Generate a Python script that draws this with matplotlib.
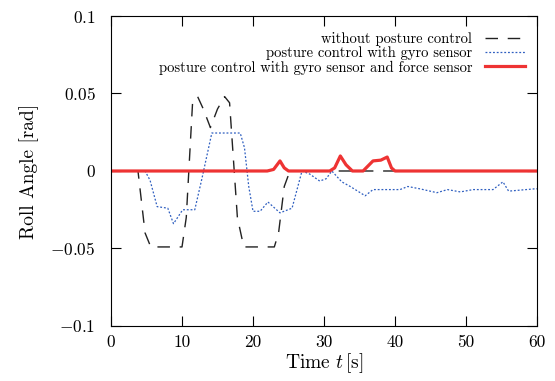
import matplotlib
matplotlib.use("Agg")
import matplotlib.pyplot as plt

plt.rcParams['font.family'] = 'serif'
plt.rcParams['font.serif'] = ['cmr10']
plt.rcParams['mathtext.fontset'] = 'cm'
plt.rcParams['axes.formatter.use_mathtext'] = True

# without posture control
t_none = [0, 3.8, 4.8, 5.6, 10.0, 10.6, 11.5, 12.2, 13.0, 14.0, 15.0, 16.0, 16.7, 17.8, 18.7, 23.0, 23.6, 24.4, 25.2, 60]
r_none = [0, 0, -0.040, -0.049, -0.049, -0.030, 0.045, 0.048, 0.040, 0.028, 0.040, 0.048, 0.044, -0.030, -0.049, -0.049, -0.040, -0.010, 0, 0]

# posture control with gyro sensor
t_gyro = [0, 4.8, 5.5, 6.5, 8.0, 8.8, 10.1, 11.8, 12.8, 14.2, 18.2, 18.8, 19.4, 20.0, 21.0, 22.1, 23.8, 25.5, 26.9,
          28.0, 29.4, 30.3, 31.1, 32.5, 33.7, 35.8, 36.9, 40.7, 41.8, 43.5, 45.9, 47.4, 49.2, 51.0, 53.8, 55.2, 56.0, 59.7, 60]
r_gyro = [0, 0, -0.006, -0.023, -0.024, -0.034, -0.025, -0.025, -0.005, 0.0245, 0.0245, 0.015, -0.010, -0.026, -0.026, -0.020, -0.027, -0.024, 0,
          -0.002, -0.0065, -0.005, 0, -0.007, -0.010, -0.016, -0.012, -0.012, -0.010, -0.0115, -0.014, -0.012, -0.0135, -0.012, -0.012, -0.007, -0.013, -0.0115, -0.0115]

# posture control with gyro sensor and force sensor
t_force = [0, 22.0, 22.9, 23.8, 24.4, 25.0, 30.8, 31.5, 32.3, 33.1, 34.0, 35.5, 36.9, 38.0, 38.9, 39.5, 40.0, 60]
r_force = [0, 0, 0.001, 0.0065, 0.002, 0, 0, 0.002, 0.0097, 0.004, 0, 0, 0.0065, 0.007, 0.009, 0.002, 0, 0]

x_ticks = [0, 10, 20, 30, 40, 50, 60]
y_ticks = [-0.1, -0.05, 0, 0.05, 0.1]
y_labels = ['$-0.1$', '$-0.05$', '$0$', '$0.05$', '$0.1$']

fig = plt.figure(figsize=(5.55, 3.81), dpi=100)
ax = fig.add_axes([0.2, 0.1444, 0.7676, 0.8136])

ax.plot(t_none, r_none, color='#222222', lw=1.0, dashes=(9, 7), label='without posture control')
ax.plot(t_gyro, r_gyro, color='#2f5fc0', lw=0.9, dashes=(1.5, 1.5), label='posture control with gyro sensor')
ax.plot(t_force, r_force, color='#ee3333', lw=2.3, label='posture control with gyro sensor and force sensor')

ax.set_xlim(0, 60)
ax.set_ylim(-0.1, 0.1)
ax.set_xticks(x_ticks)
ax.set_xticklabels([str(v) for v in x_ticks])
ax.set_yticks(y_ticks)
ax.set_yticklabels(y_labels)
ax.tick_params(direction='in', top=True, right=True, length=7, labelsize=12.5)
ax.tick_params(axis='x', pad=6)
ax.tick_params(axis='y', pad=11)
ax.set_xlabel('Time $t\\,$[s]', fontsize=14, labelpad=1)
ax.set_ylabel('Roll Angle [rad]', fontsize=14, labelpad=8)

ax.legend(loc='upper right', frameon=False, markerfirst=False, fontsize=10.5,
          handlelength=2.75, handletextpad=0.9, labelspacing=0.0,
          borderaxespad=0.4, bbox_to_anchor=(1.0, 0.985))

fig.savefig('out.png', dpi=100)
